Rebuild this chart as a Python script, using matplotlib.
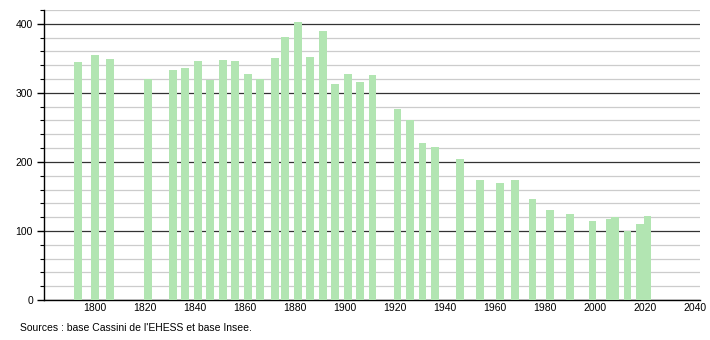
import matplotlib
matplotlib.use("Agg")
import matplotlib.pyplot as plt
from matplotlib.ticker import MultipleLocator

years = [1793, 1800, 1806, 1821, 1831, 1836, 1841, 1846, 1851, 1856,
         1861, 1866, 1872, 1876, 1881, 1886, 1891, 1896, 1901, 1906,
         1911, 1921, 1926, 1931, 1936, 1946, 1954, 1962, 1968, 1975,
         1982, 1990, 1999, 2006, 2008, 2013, 2018, 2021]
population = [344, 355, 349, 320, 333, 336, 346, 319, 348, 346,
              327, 320, 350, 381, 402, 352, 390, 313, 328, 316,
              326, 277, 261, 228, 221, 204, 174, 169, 174, 146,
              130, 125, 115, 118, 120, 100, 110, 121]
x_ticks = list(range(1800, 2041, 20))
y_ticks = [0, 100, 200, 300, 400]
source_text = "Sources : base Cassini de l'EHESS et base Insee."

plt.rcParams['font.family'] = ['Liberation Sans', 'DejaVu Sans']

fig = plt.figure(figsize=(7.1, 3.4), dpi=100)
ax = fig.add_axes([44/710, 40/340, 656/710, 290/340])

ax.bar(years, population, width=3.1, color='#b2e5b2', zorder=3)

ax.set_xlim(1779.5, 2042)
ax.set_ylim(0, 420)

ax.set_xticks(x_ticks)
ax.set_xticklabels([str(t) for t in x_ticks])
ax.set_yticks(y_ticks)
ax.set_yticklabels([str(t) for t in y_ticks])
ax.yaxis.set_minor_locator(MultipleLocator(20))

ax.grid(axis='y', which='minor', color='#cccccc', linewidth=0.9, zorder=1)
ax.grid(axis='y', which='major', color='#333333', linewidth=0.9, zorder=2)

for s in ['top', 'right']:
    ax.spines[s].set_visible(False)
ax.spines['left'].set_color('black')
ax.spines['bottom'].set_color('black')
ax.spines['left'].set_linewidth(1.0)
ax.spines['bottom'].set_linewidth(1.0)

ax.tick_params(axis='x', length=0, pad=2.5, labelsize=7.5, colors='black')
ax.tick_params(axis='y', which='major', length=5, width=1, pad=3, labelsize=7.5)
ax.tick_params(axis='y', which='minor', length=3, width=0.8)

fig.text(20/710, 1 - 328/340, source_text, fontsize=7.5, va='center', ha='left')

fig.savefig("out.png", dpi=100)
